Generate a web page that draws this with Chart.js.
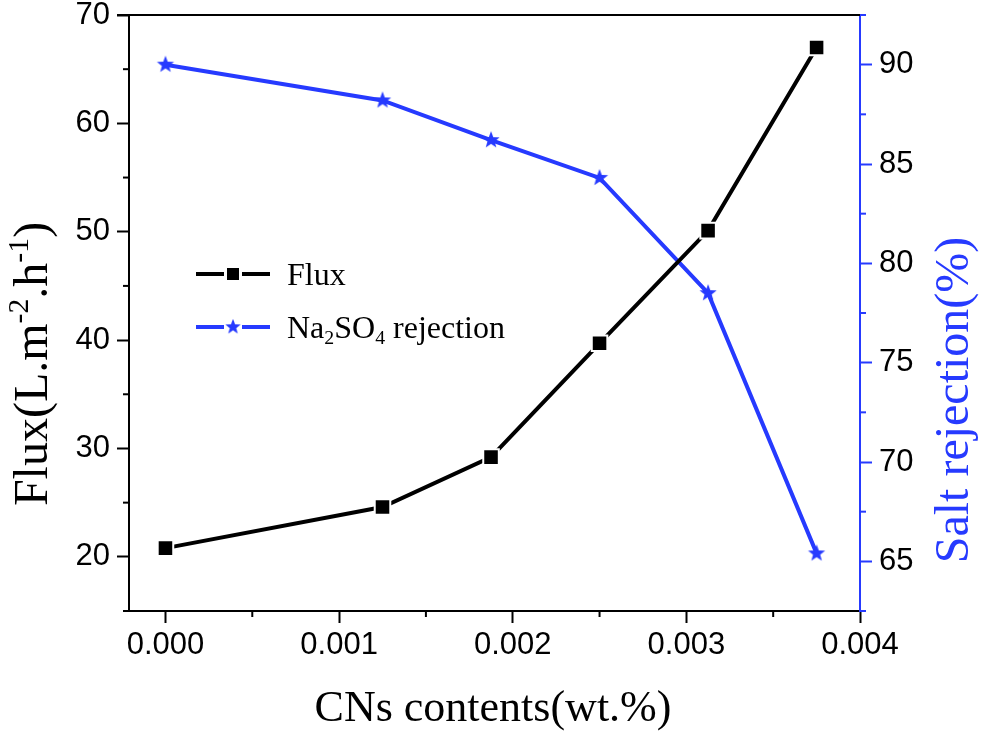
<!DOCTYPE html>
<html>
<head>
<meta charset="utf-8">
<script src="https://cdn.jsdelivr.net/npm/chart.js@4.4.1/dist/chart.umd.min.js"></script>
<style>
    html, body { margin: 0; padding: 0; background: #fff; }
    #wrap { width: 981px; height: 734px; }
</style>
</head>
<body>
<div id="wrap"><canvas id="chart" width="981" height="734"></canvas></div>
<script>
// values
const cnsContents = [0, 0.00125, 0.001875, 0.0025, 0.003125, 0.00375];
const fluxValues = [20.8, 24.6, 29.2, 39.7, 50.1, 67.0];
const rejectionValues = [90.0, 88.2, 86.2, 84.3, 78.5, 65.4];
const xTickLabels = ['0.000', '0.001', '0.002', '0.003', '0.004'];
const fluxTickLabels = ['20', '30', '40', '50', '60', '70'];
const rejectionTickLabels = ['65', '70', '75', '80', '85', '90'];

const BLUE = 'rgb(38,58,255)';
const TICK_FONT = {family: '"Liberation Sans", Arial, sans-serif', size: 31};
const SERIF = '"Liberation Serif", "Times New Roman", serif';

function isMajor(v, step) {
    return Math.abs(v / step - Math.round(v / step)) < 1e-6;
}

// filled star marker as an image
function makeStar(size, color) {
    const c = document.createElement('canvas');
    c.width = size;
    c.height = size;
    const g = c.getContext('2d');
    const cx = size / 2, cy = size / 2, ro = size / 2 - 1, ri = ro * 0.42;
    g.beginPath();
    for (let i = 0; i < 10; i++) {
        const r = i % 2 === 0 ? ro : ri;
        const a = -Math.PI / 2 + i * Math.PI / 5;
        g.lineTo(cx + r * Math.cos(a), cy + r * Math.sin(a));
    }
    g.closePath();
    g.fillStyle = color;
    g.fill();
    return c;
}
const starImg = makeStar(20, BLUE);

// text with sub/superscripts: parts = [[text, 'sup'|'sub'|undefined], ...]
function richWidth(ctx, parts, size) {
    let w = 0;
    parts.forEach(([t, k]) => {
        ctx.font = (k ? size * 0.62 : size) + 'px ' + SERIF;
        w += ctx.measureText(t).width;
    });
    return w;
}
function drawRich(ctx, parts, x, y, size) {
    parts.forEach(([t, k]) => {
        ctx.font = (k ? size * 0.62 : size) + 'px ' + SERIF;
        let dy = 0;
        if (k === 'sup') dy = -size * 0.4;
        if (k === 'sub') dy = size * 0.2;
        ctx.fillText(t, x, y + dy);
        x += ctx.measureText(t).width;
    });
}

const decor = {
    id: 'decor',
    afterDraw(chart) {
        const ctx = chart.ctx;
        const a = chart.chartArea;
        ctx.save();

        // top frame line
        ctx.fillStyle = '#000';
        ctx.fillRect(a.left - 12, a.top - 1, a.right - a.left + 12, 2);

        // minor ticks (shorter)
        const minor = (scale, step, color, dir) => {
            ctx.strokeStyle = color;
            ctx.lineWidth = 2;
            scale.ticks.forEach(t => {
                if (isMajor(t.value, step)) return;
                const p = scale.getPixelForValue(t.value);
                ctx.beginPath();
                if (dir === 'down') { ctx.moveTo(p, a.bottom); ctx.lineTo(p, a.bottom + 6); }
                if (dir === 'left') { ctx.moveTo(a.left, p); ctx.lineTo(a.left - 6, p); }
                if (dir === 'right') { ctx.moveTo(a.right, p); ctx.lineTo(a.right + 6, p); }
                ctx.stroke();
            });
        };
        minor(chart.scales.x, 0.001, '#000', 'down');
        minor(chart.scales.y, 10, '#000', 'left');
        minor(chart.scales.y1, 5, BLUE, 'right');

        // legend
        ctx.lineWidth = 4;
        ctx.strokeStyle = '#000';
        ctx.beginPath();
        ctx.moveTo(196, 274); ctx.lineTo(224, 274);
        ctx.moveTo(242, 274); ctx.lineTo(270, 274);
        ctx.stroke();
        ctx.fillStyle = '#000';
        ctx.fillRect(227, 268, 12, 12);
        ctx.strokeStyle = BLUE;
        ctx.beginPath();
        ctx.moveTo(196, 327); ctx.lineTo(224, 327);
        ctx.moveTo(242, 327); ctx.lineTo(270, 327);
        ctx.stroke();
        ctx.drawImage(starImg, 233 - 9, 327 - 9, 18, 18);

        ctx.fillStyle = '#000';
        ctx.textBaseline = 'alphabetic';
        ctx.textAlign = 'left';
        drawRich(ctx, [['Flux']], 287, 285, 32);
        drawRich(ctx, [['Na'], ['2', 'sub'], ['SO'], ['4', 'sub'], [' rejection']], 287, 338, 32);

        // x title
        const xt = [['CNs contents(wt.%)']];
        drawRich(ctx, xt, 493 - richWidth(ctx, xt, 44) / 2, 721, 44);

        // left title
        const lt = [['Flux(L.m'], ['-2', 'sup'], ['.h'], ['-1', 'sup'], [')']];
        ctx.save();
        ctx.translate(47, 364);
        ctx.rotate(-Math.PI / 2);
        drawRich(ctx, lt, -richWidth(ctx, lt, 48) / 2, 0, 48);
        ctx.restore();

        // right title
        const rt = [['Salt rejection(%)']];
        ctx.save();
        ctx.fillStyle = BLUE;
        ctx.translate(968, 400);
        ctx.rotate(-Math.PI / 2);
        drawRich(ctx, rt, -richWidth(ctx, rt, 48) / 2, 0, 48);
        ctx.restore();

        ctx.restore();
    }
};

const fitY = width => s => {
    s.width = width;
    s.paddingTop = 0;
    s.paddingBottom = 0;
};

new Chart(document.getElementById('chart'), {
    type: 'line',
    data: {
        datasets: [
            {
                label: 'Flux',
                data: cnsContents.map((x, i) => ({x: x, y: fluxValues[i]})),
                yAxisID: 'y',
                borderColor: '#000',
                borderWidth: 4,
                pointStyle: 'rect',
                pointRadius: 11,
                pointBackgroundColor: '#000',
                pointBorderColor: '#fff',
                pointBorderWidth: 2,
                tension: 0
            },
            {
                label: 'Na2SO4 rejection',
                data: cnsContents.map((x, i) => ({x: x, y: rejectionValues[i]})),
                yAxisID: 'y1',
                borderColor: BLUE,
                borderWidth: 4,
                pointStyle: starImg,
                pointRadius: 10,
                tension: 0
            }
        ]
    },
    options: {
        responsive: false,
        devicePixelRatio: 1,
        animation: false,
        clip: false,
        layout: {padding: {top: 15, left: 0, right: 0, bottom: 0}},
        plugins: {legend: {display: false}, tooltip: {enabled: false}},
        scales: {
            x: {
                type: 'linear',
                position: 'bottom',
                min: -0.00021,
                max: 0.004,
                afterFit: s => { s.height = 123; s.paddingLeft = 0; s.paddingRight = 0; },
                border: {color: '#000', width: 2},
                grid: {
                    drawOnChartArea: false,
                    tickLength: 12,
                    tickWidth: 2,
                    tickColor: c => isMajor(c.tick.value, 0.001) ? '#000' : 'rgba(0,0,0,0)'
                },
                ticks: {
                    stepSize: 0.0005,
                    includeBounds: false,
                    autoSkip: false,
                    maxRotation: 0,
                    padding: 4,
                    color: '#000',
                    font: TICK_FONT,
                    callback: v => isMajor(v, 0.001) ? xTickLabels[Math.round(v / 0.001)] : ''
                }
            },
            y: {
                type: 'linear',
                position: 'left',
                min: 15,
                max: 70,
                afterFit: fitY(129),
                border: {color: '#000', width: 2},
                grid: {
                    drawOnChartArea: false,
                    tickLength: 12,
                    tickWidth: 2,
                    tickColor: c => isMajor(c.tick.value, 10) ? '#000' : 'rgba(0,0,0,0)'
                },
                ticks: {
                    stepSize: 5,
                    includeBounds: false,
                    autoSkip: false,
                    padding: 7,
                    color: '#000',
                    font: TICK_FONT,
                    callback: v => isMajor(v, 10) ? fluxTickLabels[Math.round(v / 10) - 2] : ''
                }
            },
            y1: {
                type: 'linear',
                position: 'right',
                min: 62.5,
                max: 92.5,
                afterFit: fitY(121),
                border: {color: BLUE, width: 2},
                grid: {
                    drawOnChartArea: false,
                    tickLength: 12,
                    tickWidth: 2,
                    tickColor: c => isMajor(c.tick.value, 5) ? BLUE : 'rgba(0,0,0,0)'
                },
                ticks: {
                    stepSize: 2.5,
                    includeBounds: false,
                    autoSkip: false,
                    padding: 7,
                    color: '#000',
                    font: TICK_FONT,
                    callback: v => isMajor(v, 5) ? rejectionTickLabels[Math.round(v / 5) - 13] : ''
                }
            }
        }
    },
    plugins: [decor]
});
</script>
</body>
</html>
